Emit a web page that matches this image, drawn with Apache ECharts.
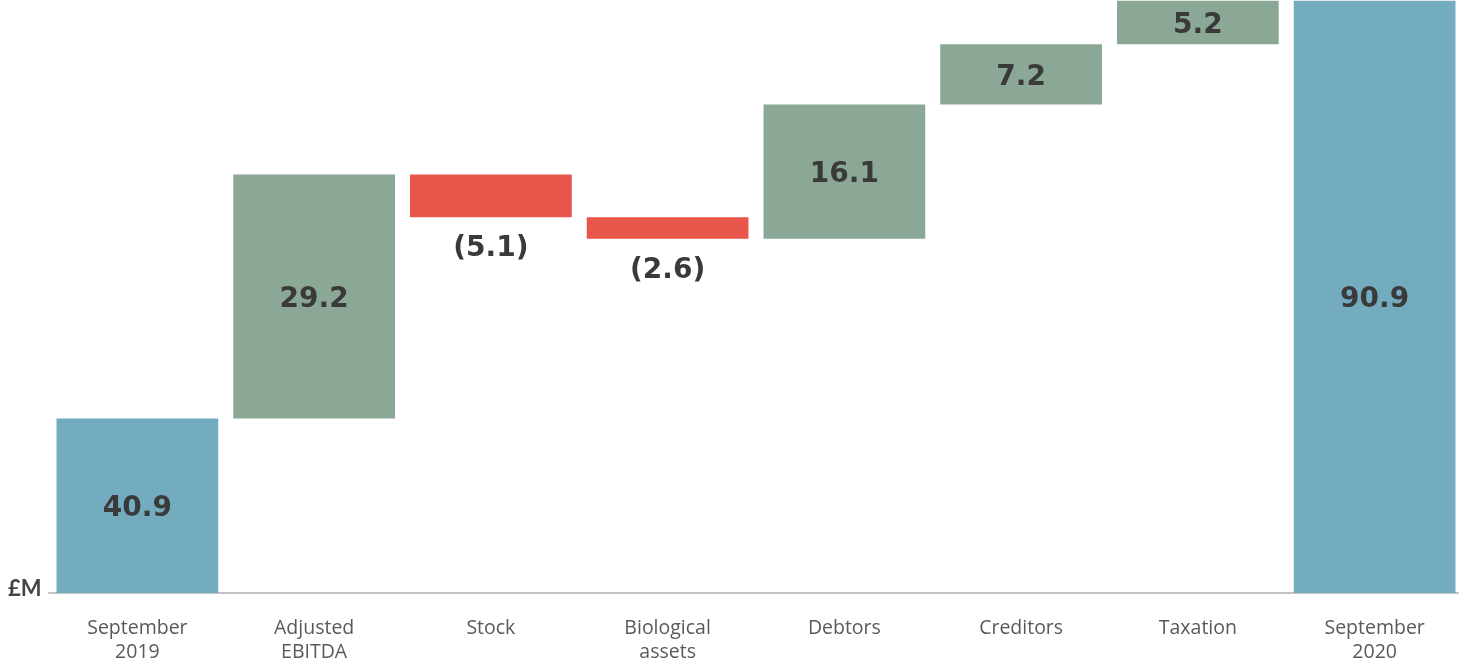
<!DOCTYPE html>
<html>
<head>
<meta charset="utf-8">
<style>
  html, body { margin: 0; padding: 0; background: #fff; overflow: hidden; }
  #chart { width: 1463px; height: 664px; }
</style>
<script src="https://cdn.jsdelivr.net/npm/echarts@6/dist/echarts.min.js"></script>
</head>
<body>
<div id="chart"></div>
<script>
// Cash bridge, £M: opening and closing totals with the movements between them
const categories = ['September\n2019', 'Adjusted\nEBITDA', 'Stock', 'Biological\nassets', 'Debtors', 'Creditors', 'Taxation', 'September\n2020'];
const openingTotal = 40.9;
const movements = [29.2, -5.1, -2.6, 16.1, 7.2, 5.2];
const closingTotal = 90.9;
const unitLabel = '£M';

const COLOR_TOTAL = '#73abbf';
const COLOR_UP = '#8ba897';
const COLOR_DOWN = '#e8564b';

// Build invisible offsets and visible bar heights from the running total
const offsets = [];
const heights = [];
const kinds = [];
offsets.push(0); heights.push(openingTotal); kinds.push('total');
let running = openingTotal;
movements.forEach(m => {
  const next = running + m;
  offsets.push(Math.min(running, next));
  heights.push(Math.abs(m));
  kinds.push(m >= 0 ? 'up' : 'down');
  running = next;
});
offsets.push(0); heights.push(closingTotal); kinds.push('total');

const signedValues = [openingTotal, ...movements, closingTotal];

const fmt = v => v < 0 ? '(' + Math.abs(v).toFixed(1) + ')' : v.toFixed(1);

const visibleData = heights.map((h, i) => {
  const kind = kinds[i];
  const color = kind === 'total' ? COLOR_TOTAL : kind === 'up' ? COLOR_UP : COLOR_DOWN;
  return {
    value: h,
    itemStyle: { color },
    label: kind === 'down'
      ? { position: 'bottom', distance: 18 }
      : { position: 'inside', offset: [0, 3] }
  };
});

const chart = echarts.init(document.getElementById('chart'), null, { renderer: 'canvas' });

chart.setOption({
  animation: false,
  grid: { left: 49, right: 0, top: 0, bottom: 71, containLabel: false },
  xAxis: {
    type: 'category',
    data: categories,
    axisLine: { show: true, lineStyle: { color: '#c4c4c4', width: 2 } },
    axisTick: { show: false },
    axisLabel: {
      color: '#595959',
      fontFamily: '"Open Sans", Lato, sans-serif',
      fontSize: 19.5,
      lineHeight: 24,
      margin: 23,
      interval: 0
    }
  },
  yAxis: {
    type: 'value',
    min: 20,
    max: 91,
    show: false,
    splitLine: { show: false }
  },
  graphic: [{
    type: 'text',
    left: 8,
    top: 578,
    style: {
      text: unitLabel,
      fill: '#444',
      font: 'bold 22px Lato, "Open Sans", sans-serif'
    }
  }],
  series: [
    {
      type: 'bar',
      stack: 'bridge',
      data: offsets,
      itemStyle: { color: 'transparent' },
      emphasis: { disabled: true },
      silent: true,
      barWidth: '91.5%'
    },
    {
      type: 'bar',
      stack: 'bridge',
      data: visibleData,
      barWidth: '91.5%',
      label: {
        show: true,
        color: '#3a3a3a',
        fontFamily: '"DejaVu Sans", sans-serif',
        fontWeight: 'bold',
        fontSize: 28,
        formatter: p => fmt(signedValues[p.dataIndex])
      }
    }
  ]
});
</script>
</body>
</html>
